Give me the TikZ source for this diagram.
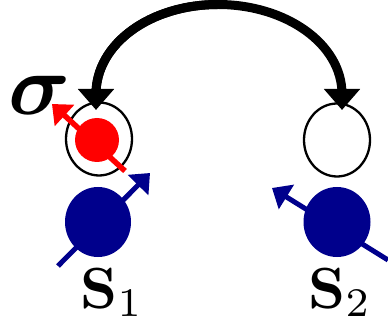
\documentclass[tikz,border=0pt]{standalone}
\usepackage{amsmath,bm}
\usetikzlibrary{arrows.meta,shapes.geometric}
\definecolor{spinblue}{RGB}{0,0,140}
\definecolor{spinred}{RGB}{255,0,0}
\begin{document}
\begin{tikzpicture}[x=1pt,y=-1pt,
  ring/.style={draw=black,line width=2.3pt,ellipse,minimum width=66pt,minimum height=73pt,inner sep=0pt},
  dot/.style={ellipse,inner sep=0pt},
  spin/.style={line width=5pt,-{Triangle[length=17pt,width=28pt]}},
  hop/.style={line width=9pt,-{Triangle[length=21pt,width=35pt]}},
  lab/.style={inner sep=0pt,anchor=base}]
\useasboundingbox (0,0) rectangle (388,331);
% rings
\node[ring] (r1) at (99,139) {};
\node[ring] (r2) at (337,140) {};
% red dot
\node[dot,fill=spinred,minimum width=44pt,minimum height=44pt] (e) at (97,140) {};
% blue dots
\node[dot,fill=spinblue,minimum width=66pt,minimum height=70pt] (b1) at (98,222) {};
\node[dot,fill=spinblue,minimum width=67pt,minimum height=70pt] (b2) at (337,222) {};
% spin arrow coordinates
\coordinate (e0) at (125,171);
\coordinate (e1) at (52,104);
\coordinate (s10) at (58,266);
\coordinate (s11) at (150,173);
\coordinate (s20) at (388,260);
\coordinate (s21) at (272,188);
\draw[spin,spinred,line width=5.5pt] (e0) -- (e1);
\draw[spin,spinblue] (s10) -- (s11);
\draw[spin,spinblue] (s20) -- (s21);
% hopping arc
\coordinate (h0) at (96,94);
\coordinate (htop) at (218,4.5);
\coordinate (h1) at (342,94);
\coordinate (h1e) at (342,110);
\draw[hop] (h0) .. controls (96,44) and (150,4.5) .. (htop)
  .. controls (286,4.5) and (342,44) .. (h1) -- (h1e);
\draw[hop] (htop) .. controls (150,4.5) and (96,44) .. (h0) -- (96,110);
% labels
\node[lab] (l1) at (112,308) {\scalebox{5.8}{$\mathbf{S}_1$}};
\node[lab] (l2) at (340,308) {\scalebox{5.8}{$\mathbf{S}_2$}};
\node[lab] (sg) at (40,115) {\scalebox{8.6}{$\bm{\sigma}$}};
\end{tikzpicture}
\end{document}
